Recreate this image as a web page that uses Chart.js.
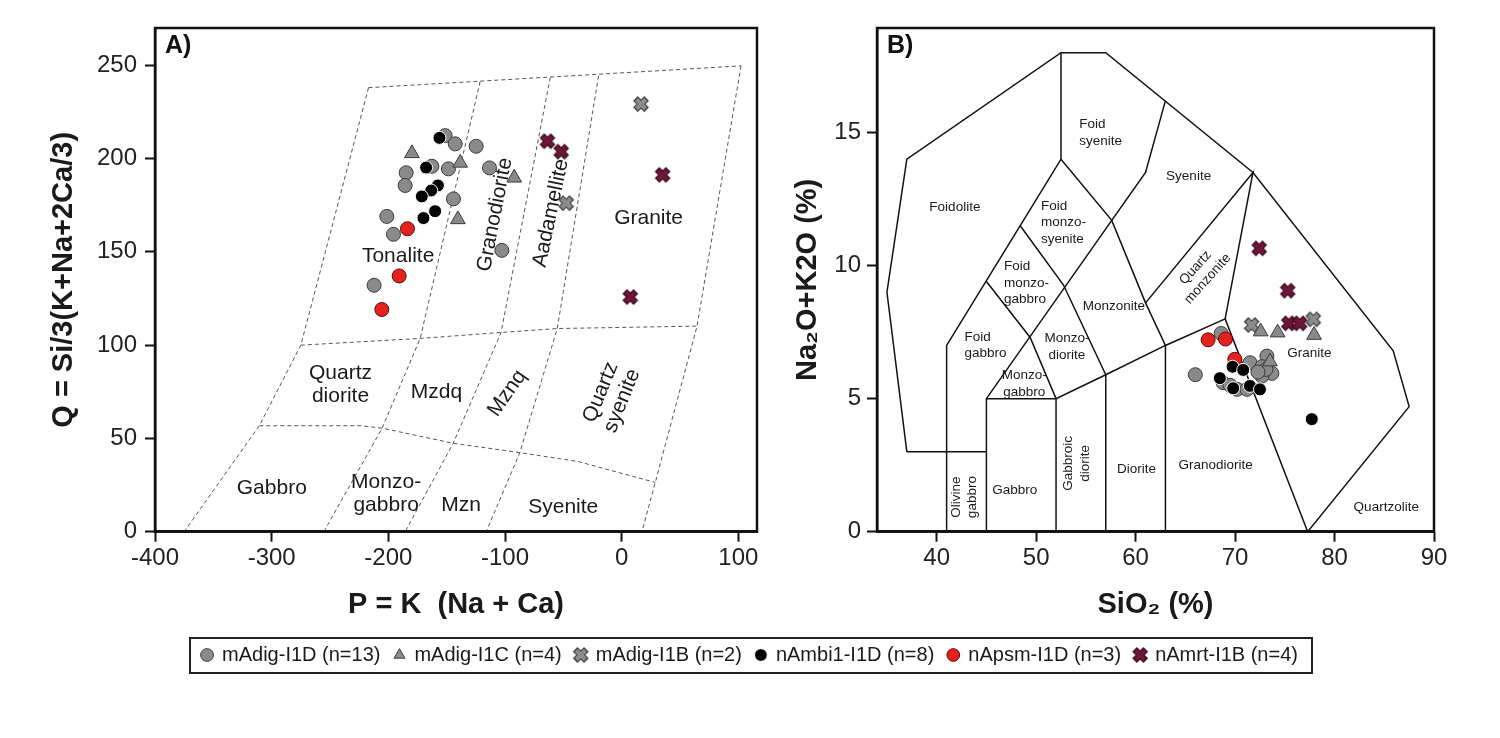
<!DOCTYPE html>
<html>
<head>
<meta charset="utf-8">
<script src="https://cdn.jsdelivr.net/npm/chart.js@4.4.1/dist/chart.umd.min.js"></script>
<style>
html,body{margin:0;padding:0;background:#fff;width:1500px;height:738px;overflow:hidden}
canvas{position:absolute;display:block}
#ca{left:0;top:0}
#cb{left:780px;top:0}
#cl{left:100px;top:631px}
#lbox{position:absolute;left:189px;top:637px;width:1120px;height:33px;border:2px solid #222;pointer-events:none}
</style>
</head>
<body>
<canvas id="ca" width="780" height="630"></canvas>
<canvas id="cb" width="720" height="630"></canvas>
<canvas id="cl" width="1300" height="60"></canvas>
<div id="lbox"></div>
<script>
// ---------------- DATA ----------------
const seriesNames = ['mAdig-I1D (n=13)','mAdig-I1C (n=4)','mAdig-I1B (n=2)','nAmbi1-I1D (n=8)','nApsm-I1D (n=3)','nAmrt-I1B (n=4)'];

// Panel A : P-Q diagram  [P, Q]
const A_mAdigI1D = [[-151.3,212.3],[-142.7,207.9],[-124.7,206.6],[-162.7,195.9],[-148.5,194.5],[-184.7,192.4],[-185.6,185.6],[-113.3,195.0],[-144.2,178.4],[-201.3,169.0],[-195.6,159.4],[-102.7,150.8],[-212.2,132.1]];
const A_mAdigI1C = [[-179.8,202.8],[-138.4,197.7],[-92.1,189.7],[-140.4,167.4]];
const A_mAdigI1B = [[16.6,229.2],[-47.5,176.1]];
const A_nAmbi1I1D = [[-156.2,211.1],[-167.6,195.2],[-157.5,185.6],[-163.3,182.9],[-171.3,179.7],[-159.9,171.8],[-169.9,168.1]];
const A_nApsmI1D = [[-183.6,162.4],[-190.7,137.1],[-205.6,119.1]];
const A_nAmrtI1B = [[-63.6,209.3],[-51.8,203.7],[35.1,191.3],[7.4,125.8]];

// Panel A field boundaries
const A_bounds = [
  [[-217,238],[102.3,249.7]],
  [[-275,100],[-172.7,103.6],[-103.4,106.8],[-55.2,108.9],[64.6,110.2]],
  [[-310.6,56.8],[-223.1,56.8],[-205.3,55.5],[-144.4,47.4],[-87.3,42.4],[-37.2,37.6],[28.8,26.4]],
  [[-217,238],[-275,100],[-310.6,56.8],[-375,0]],
  [[-121.3,241.3],[-172.7,103.6],[-205.3,55.5],[-255.3,0]],
  [[-61.2,243.5],[-103.4,106.8],[-144.4,47.4],[-185.6,0]],
  [[-19.8,244.4],[-55.2,108.9],[-87.3,42.4],[-116.1,0]],
  [[102.3,249.7],[64.6,110.2],[28.8,26.4],[17.4,0]]
];
const A_fields = [
  ['Tonalite',-191.6,147.6,0],
  ['Granodiorite',-108.6,169.9,-79],
  ['Aadamellite',-60.6,170.8,-78],
  ['Granite',23.1,167.8,0],
  ['Quartz\ndiorite',-241,78.6,0],
  ['Mzdq',-158.7,75.0,0],
  ['Mznq',-98.1,74.2,-55],
  ['Quartz\nsyenite',-8.8,72.4,-68],
  ['Gabbro',-299.9,23.4,0],
  ['Monzo-\ngabbro',-201.9,20.3,0],
  ['Mzn',-137.6,14.4,0],
  ['Syenite',-50.1,13.2,0]
];

// Panel B : TAS diagram  [SiO2, Na2O+K2O]
const B_mAdigI1D = [[68.6,7.45],[66.0,5.9],[73.2,6.6],[71.5,6.35],[72.7,6.2],[73.7,5.95],[72.7,5.85],[73.1,6.1],[68.8,5.6],[70.2,5.35],[71.2,5.35],[72.3,6.0],[69.5,5.5]];
const B_mAdigI1C = [[72.57,7.52],[74.28,7.48],[77.94,7.39],[73.51,6.39]];
const B_mAdigI1B = [[71.66,7.77],[77.87,7.98]];
const B_nAmbi1I1D = [[69.75,6.2],[70.82,6.08],[68.47,5.77],[69.81,5.39],[71.49,5.48],[72.5,5.35],[77.71,4.23]];
const B_nApsmI1D = [[67.29,7.21],[69.04,7.24],[69.98,6.48]];
const B_nAmrtI1B = [[72.43,10.65],[75.29,9.06],[75.4,7.83],[76.5,7.83]];

// Panel B field boundaries
const B_bounds = [
  [[37,3],[35,9],[37,14],[52.5,18],[57,18],[71.8,13.5],[85.9,6.8],[87.5,4.7],[77.3,0]],
  [[37,3],[45,3]],
  [[52.5,18],[52.5,14]],
  [[41,0],[41,7],[48.4,11.5],[52.5,14],[57.6,11.7],[61,8.6],[63,7],[63,0]],
  [[45,0],[45,5],[57.6,11.7]],
  [[45,9.4],[49.4,7.3],[52,5]],
  [[48.4,11.5],[52.75,9.27],[57,5.9]],
  [[45,5],[52,5],[57,5.9],[63,7],[69,8]],
  [[52,0],[52,5]],
  [[57,0],[57,5.9]],
  [[63,16.2],[61,13.5],[57.6,11.7]],
  [[61,8.6],[71.8,13.5],[69,8],[77.3,0]]
];
const B_fields = [
  ['Foidolite',41.83,12.2,0,'center'],
  ['Foid\nsyenite',54.33,15.0,0,'left'],
  ['Syenite',65.33,13.35,0,'center'],
  ['Foid\nmonzo-\nsyenite',50.48,11.62,0,'left'],
  ['Foid\nmonzo-\ngabbro',46.77,9.34,0,'left'],
  ['Monzonite',57.81,8.46,0,'center'],
  ['Quartz\nmonzonite',66.64,9.71,-48,'center'],
  ['Foid\ngabbro',42.79,7.0,0,'left'],
  ['Monzo-\ndiorite',53.1,6.95,0,'center'],
  ['Monzo-\ngabbro',48.8,5.55,0,'center'],
  ['Olivine\ngabbro',42.8,1.3,-90,'center'],
  ['Gabbro',47.86,1.57,0,'center'],
  ['Gabbroic\ndiorite',54.1,2.57,-90,'center'],
  ['Diorite',60.09,2.36,0,'center'],
  ['Granodiorite',68.04,2.48,0,'center'],
  ['Granite',77.47,6.71,0,'center'],
  ['Quartzolite',85.2,0.92,0,'center']
];

// ---------------- STYLE ----------------
const FAM = "'Liberation Sans', Arial, Helvetica, sans-serif";
Chart.defaults.font.family = FAM;
Chart.defaults.color = '#1a1a1a';

function makeX(fill, edge) {
  const c = document.createElement('canvas');
  c.width = 18; c.height = 18;
  const g = c.getContext('2d');
  g.translate(9, 9);
  const a = 4.6;
  g.lineCap = 'butt';
  g.strokeStyle = edge; g.lineWidth = 6.6;
  g.beginPath(); g.moveTo(-a-1, -a-1); g.lineTo(a+1, a+1); g.moveTo(a+1, -a-1); g.lineTo(-a-1, a+1); g.stroke();
  g.strokeStyle = fill; g.lineWidth = 4.4;
  g.beginPath(); g.moveTo(-a, -a); g.lineTo(a, a); g.moveTo(a, -a); g.lineTo(-a, a); g.stroke();
  return c;
}
const xGray = makeX('#8c8c8c', '#3c3c3c');
const xPurple = makeX('#6d1738', '#3a0b1d');

const styles = [
  {pointStyle:'circle', radius:7, bg:'#8a8a8a', bc:'#3a3a3a', bw:1, order:5},
  {pointStyle:'triangle', radius:8.5, bg:'#8a8a8a', bc:'#3a3a3a', bw:1, order:3},
  {pointStyle:xGray, radius:9, bg:'#8c8c8c', bc:'#3c3c3c', bw:1, order:4},
  {pointStyle:'circle', radius:6.5, bg:'#000000', bc:'#ffffff', bw:1, order:1},
  {pointStyle:'circle', radius:7, bg:'#e5231d', bc:'#5a0a0a', bw:1, order:2},
  {pointStyle:xPurple, radius:9, bg:'#6d1738', bc:'#3a0b1d', bw:1, order:0}
];

function pts(arr) { return arr.map(p => ({x: p[0], y: p[1]})); }

function markerSets(seriesList) {
  return seriesList.map((arr, i) => ({
    label: seriesNames[i],
    data: pts(arr),
    pointStyle: styles[i].pointStyle,
    pointRadius: styles[i].radius,
    backgroundColor: styles[i].bg,
    borderColor: styles[i].bc,
    borderWidth: styles[i].bw,
    order: styles[i].order,
    showLine: false
  }));
}
function boundSets(list, color, width, dash) {
  return list.map(arr => ({
    label: '',
    data: pts(arr),
    showLine: true,
    borderColor: color,
    borderWidth: width,
    borderDash: dash,
    pointRadius: 0,
    fill: false,
    tension: 0,
    order: 10
  }));
}

const framePlugin = {
  id: 'frame',
  afterDraw(chart, args, opts) {
    const {ctx, chartArea: a} = chart;
    ctx.save();
    ctx.strokeStyle = '#111';
    ctx.lineWidth = 2.5;
    ctx.strokeRect(a.left, a.top, a.right - a.left, a.bottom - a.top);
    ctx.fillStyle = '#111';
    ctx.font = 'bold 25px ' + FAM;
    ctx.textAlign = 'left';
    ctx.textBaseline = 'middle';
    ctx.fillText(opts.tag, a.left + opts.tagDx, a.top + 18);
    ctx.restore();
  }
};
const fieldPlugin = {
  id: 'fields',
  beforeDatasetsDraw(chart, args, opts) {
    const {ctx, scales} = chart;
    const list = opts.list || [];
    ctx.save();
    ctx.fillStyle = '#1a1a1a';
    ctx.font = opts.size + 'px ' + FAM;
    ctx.textBaseline = 'middle';
    for (const f of list) {
      const px = scales.x.getPixelForValue(f[1]);
      const py = scales.y.getPixelForValue(f[2]);
      ctx.save();
      ctx.translate(px, py);
      ctx.rotate((f[3] || 0) * Math.PI / 180);
      ctx.textAlign = f[4] || 'center';
      const lines = f[0].split('\n');
      lines.forEach((s, k) => ctx.fillText(s, 0, (k - (lines.length - 1) / 2) * opts.lh));
      ctx.restore();
    }
    ctx.restore();
  }
};

function axis(min, max, step, title, tickPad, fit, isX, titlePad) {
  return {
    type: 'linear', min: min, max: max,
    ticks: {stepSize: step, includeBounds: false, font: {size: 24}, color: '#222', padding: tickPad},
    grid: {display: true, drawOnChartArea: false, drawTicks: true, tickLength: 10, tickWidth: 2, tickColor: '#111', color: '#111'},
    border: {display: true, color: '#111', width: 2.5},
    title: {display: true, text: title, font: {size: 29, weight: 'bold'}, color: '#1a1a1a', padding: titlePad},
    afterFit: isX ? (s => { s.height = fit; }) : (s => { s.width = fit; })
  };
}

// ---------------- CHART A ----------------
new Chart(document.getElementById('ca'), {
  type: 'scatter',
  data: {datasets: markerSets([A_mAdigI1D, A_mAdigI1C, A_mAdigI1B, A_nAmbi1I1D, A_nApsmI1D, A_nAmrtI1B])
    .concat(boundSets(A_bounds, '#555', 1, [4, 3]))},
  options: {
    responsive: false, animation: false, events: [],
    layout: {padding: {left: 0, right: 23, top: 28, bottom: 0}},
    scales: {
      x: axis(-400, 116, 100, 'P = K  (Na + Ca)', 2, 98.3, true, {top: 0, bottom: 7.6}),
      y: axis(0, 270, 50, 'Q = Si/3(K+Na+2Ca/3)', 8, 155, false, {top: 47, bottom: 0})
    },
    plugins: {
      legend: {display: false}, tooltip: {enabled: false},
      frame: {tag: 'A)', tagDx: 10},
      fields: {list: A_fields, size: 21, lh: 23}
    }
  },
  plugins: [framePlugin, fieldPlugin]
});

// ---------------- CHART B ----------------
new Chart(document.getElementById('cb'), {
  type: 'scatter',
  data: {datasets: markerSets([B_mAdigI1D, B_mAdigI1C, B_mAdigI1B, B_nAmbi1I1D, B_nApsmI1D, B_nAmrtI1B])
    .concat(boundSets(B_bounds, '#111', 1.5, []))},
  options: {
    responsive: false, animation: false, events: [],
    layout: {padding: {left: 0, right: 66, top: 28, bottom: 0}},
    scales: {
      x: axis(34, 90, 10, 'SiO₂ (%)', 2, 98.3, true, {top: 0, bottom: 7.6}),
      y: axis(0, 18.93, 5, 'Na₂O+K2O (%)', 6, 97, false, {top: 10.6, bottom: 0})
    },
    plugins: {
      legend: {display: false}, tooltip: {enabled: false},
      frame: {tag: 'B)', tagDx: 10},
      fields: {list: B_fields, size: 13.5, lh: 16.5}
    }
  },
  plugins: [framePlugin, fieldPlugin]
});

// ---------------- LEGEND ----------------
new Chart(document.getElementById('cl'), {
  type: 'scatter',
  data: {datasets: seriesNames.map((n, i) => ({
    label: n, data: [],
    pointStyle: styles[i].pointStyle, pointRadius: styles[i].radius,
    backgroundColor: styles[i].bg, borderColor: styles[i].bc, borderWidth: styles[i].bw
  }))},
  options: {
    responsive: false, animation: false, events: [],
    layout: {padding: 0},
    scales: {x: {display: false}, y: {display: false}},
    plugins: {
      tooltip: {enabled: false},
      legend: {display: true, position: 'top', maxHeight: 60,
        labels: {usePointStyle: true, boxWidth: 10, boxHeight: 9, padding: 14, font: {size: 20}, color: '#1a1a1a'}}
    }
  }
});
</script>
</body>
</html>
